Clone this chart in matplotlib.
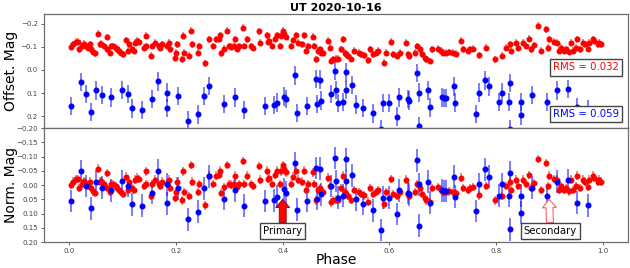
import numpy as np
import matplotlib
matplotlib.use('Agg')
import matplotlib.pyplot as plt

# red: offset mag
red_phase = [0.0025, 0.0075, 0.012, 0.016, 0.018, 0.024, 0.027, 0.032, 0.035, 0.039,
             0.041, 0.045, 0.048, 0.054, 0.057, 0.060, 0.065, 0.070, 0.071, 0.076,
             0.079, 0.083, 0.087, 0.090, 0.093, 0.097, 0.100, 0.106, 0.111, 0.112,
             0.118, 0.121, 0.123, 0.127, 0.131, 0.140, 0.144, 0.143, 0.153, 0.156,
             0.160, 0.168, 0.171, 0.174, 0.183, 0.187, 0.189, 0.199, 0.201, 0.202,
             0.211, 0.214, 0.216, 0.224, 0.228, 0.230, 0.241, 0.244, 0.255, 0.261,
             0.270, 0.275, 0.280, 0.283, 0.285, 0.290, 0.295, 0.300, 0.303, 0.308,
             0.311, 0.315, 0.318, 0.325, 0.328, 0.333, 0.341, 0.345, 0.355, 0.358,
             0.370, 0.372, 0.375, 0.379, 0.386, 0.389, 0.394, 0.397, 0.400, 0.403,
             0.407, 0.415, 0.420, 0.425, 0.428, 0.436, 0.440, 0.444, 0.448, 0.456,
             0.459, 0.462, 0.467, 0.469, 0.472, 0.476, 0.485, 0.488, 0.491, 0.494,
             0.500, 0.503, 0.510, 0.513, 0.516, 0.519, 0.522, 0.528, 0.534, 0.543,
             0.547, 0.553, 0.559, 0.564, 0.569, 0.575, 0.578, 0.589, 0.594, 0.603,
             0.606, 0.614, 0.619, 0.631, 0.634, 0.637, 0.647, 0.651, 0.657, 0.661,
             0.666, 0.669, 0.675, 0.680, 0.690, 0.697, 0.700, 0.706, 0.712, 0.719,
             0.725, 0.734, 0.738, 0.747, 0.750, 0.756, 0.767, 0.781, 0.797, 0.811,
             0.818, 0.825, 0.828, 0.837, 0.840, 0.850, 0.856, 0.862, 0.865, 0.870,
             0.879, 0.884, 0.893, 0.896, 0.898, 0.909, 0.913, 0.917, 0.921, 0.926,
             0.931, 0.936, 0.940, 0.943, 0.949, 0.952, 0.957, 0.962, 0.967, 0.971,
             0.974, 0.981, 0.984, 0.990, 0.993, 0.996]
red_mag = [-0.100, -0.112, -0.122, -0.122, -0.090, -0.104, -0.114, -0.104, -0.097, -0.112,
           -0.090, -0.078, -0.072, -0.158, -0.112, -0.114, -0.104, -0.090, -0.143, -0.075,
           -0.104, -0.104, -0.097, -0.090, -0.083, -0.075, -0.068, -0.130, -0.083, -0.112,
           -0.090, -0.083, -0.119, -0.126, -0.122, -0.097, -0.148, -0.104, -0.061, -0.104,
           -0.119, -0.104, -0.097, -0.112, -0.104, -0.119, -0.090, -0.054, -0.075, -0.112,
           -0.046, -0.148, -0.075, -0.061, -0.170, -0.112, -0.075, -0.104, -0.029, -0.133,
           -0.104, -0.133, -0.136, -0.151, -0.072, -0.093, -0.170, -0.104, -0.101, -0.104,
           -0.133, -0.093, -0.104, -0.184, -0.104, -0.133, -0.104, -0.097, -0.167, -0.119,
           -0.151, -0.122, -0.126, -0.104, -0.136, -0.151, -0.104, -0.148, -0.170, -0.158,
           -0.145, -0.104, -0.130, -0.151, -0.119, -0.112, -0.151, -0.083, -0.104, -0.145,
           -0.104, -0.046, -0.083, -0.090, -0.075, -0.075, -0.126, -0.097, -0.039, -0.046,
           -0.049, -0.049, -0.090, -0.133, -0.075, -0.068, -0.061, -0.049, -0.083, -0.075,
           -0.068, -0.064, -0.042, -0.090, -0.068, -0.075, -0.083, -0.032, -0.075, -0.122,
           -0.068, -0.061, -0.075, -0.119, -0.068, -0.061, -0.075, -0.104, -0.090, -0.068,
           -0.054, -0.046, -0.039, -0.090, -0.093, -0.083, -0.075, -0.075, -0.078, -0.075,
           -0.071, -0.126, -0.090, -0.083, -0.090, -0.093, -0.064, -0.097, -0.046, -0.061,
           -0.097, -0.112, -0.083, -0.119, -0.097, -0.119, -0.104, -0.136, -0.090, -0.107,
           -0.191, -0.083, -0.177, -0.097, -0.133, -0.122, -0.119, -0.083, -0.097, -0.083,
           -0.090, -0.078, -0.119, -0.083, -0.097, -0.133, -0.090, -0.119, -0.112, -0.093,
           -0.119, -0.133, -0.126, -0.112, -0.119, -0.112]

# blue: normalized mag
blue_phase = [0.004, 0.023, 0.031, 0.041, 0.051, 0.061, 0.079, 0.098, 0.110, 0.118,
              0.136, 0.155, 0.167, 0.184, 0.183, 0.204, 0.222, 0.241, 0.253, 0.261,
              0.290, 0.310, 0.328, 0.366, 0.384, 0.389, 0.402, 0.407, 0.423, 0.426,
              0.446, 0.464, 0.462, 0.469, 0.472, 0.491, 0.497, 0.500, 0.503, 0.513,
              0.518, 0.519, 0.530, 0.538, 0.550, 0.569, 0.584, 0.588, 0.599, 0.614,
              0.617, 0.634, 0.636, 0.652, 0.655, 0.656, 0.672, 0.676, 0.699, 0.703,
              0.706, 0.720, 0.723, 0.762, 0.768, 0.778, 0.787, 0.806, 0.811, 0.823,
              0.826, 0.826, 0.847, 0.847, 0.867, 0.895, 0.914, 0.934, 0.952, 0.971]
blue_norm = [0.056, -0.049, 0.003, 0.081, -0.012, 0.009, 0.019, -0.014, 0.003, 0.067,
             0.073, 0.027, -0.051, -0.002, 0.064, 0.012, 0.120, 0.093, 0.012, -0.031,
             0.048, 0.019, 0.073, 0.056, 0.053, 0.041, 0.015, 0.027, -0.077, 0.087,
             0.056, 0.048, -0.060, -0.058, 0.033, 0.003, -0.095, -0.014, 0.044, 0.038,
             -0.090, -0.014, -0.034, 0.050, 0.065, 0.088, 0.158, 0.044, 0.044, 0.102,
             0.019, 0.027, 0.033, -0.087, -0.002, 0.143, -0.012, 0.062, 0.019, 0.021,
             0.021, -0.029, 0.041, 0.091, -0.002, -0.055, -0.029, 0.038, -0.002, 0.038,
             -0.043, 0.155, 0.038, 0.097, 0.009, 0.038, -0.012, -0.017, 0.062, 0.071]

red_zero = -0.10
blue_zero = 0.10
red_err = 0.015
blue_err = 0.04
rms_red = 0.032
rms_blue = 0.059

red_phase = np.array(red_phase)
red_mag = np.array(red_mag)
blue_phase = np.array(blue_phase)
blue_norm = np.array(blue_norm)

fig = plt.figure(figsize=(6.3, 2.68), dpi=100)
ax1 = fig.add_axes([0.070, 0.522, 0.927, 0.426])
ax2 = fig.add_axes([0.070, 0.097, 0.927, 0.425], sharex=ax1)

ekw = dict(fmt='o', ms=3.3, elinewidth=1.2, capsize=0, zorder=2)

ax1.errorbar(red_phase, red_mag, yerr=red_err, color='red', ecolor=(1, 0, 0, 0.55), **ekw)
ax1.errorbar(blue_phase, blue_norm + blue_zero, yerr=blue_err, color='blue',
             ecolor=(0, 0, 1, 0.6), **ekw)

ax2.errorbar(red_phase, red_mag - red_zero, yerr=red_err, color='red', ecolor=(1, 0, 0, 0.55), **ekw)
ax2.errorbar(blue_phase, blue_norm, yerr=blue_err, color='blue', ecolor=(0, 0, 1, 0.6), **ekw)

ax1.set_xlim(-0.047, 1.047)
ax1.set_ylim(0.252, -0.243)
ax1.set_yticks([-0.2, -0.1, 0.0, 0.1, 0.2])
ax2.set_ylim(0.2, -0.2)
ax2.set_yticks(np.arange(-0.20, 0.201, 0.05))
ax2.set_xticks([0.0, 0.2, 0.4, 0.6, 0.8, 1.0])
plt.setp(ax1.get_xticklabels(), visible=False)

for ax in (ax1, ax2):
    ax.tick_params(labelsize=5, length=2.5, width=0.6, colors='#444444', pad=2)
    for sp in ax.spines.values():
        sp.set_color('#6e6e6e')
        sp.set_linewidth(0.9)

ax1.set_ylabel('Offset. Mag', fontsize=10)
ax2.set_ylabel('Norm. Mag', fontsize=10)
ax1.yaxis.set_label_coords(-0.045, 0.5)
ax2.yaxis.set_label_coords(-0.045, 0.5)
ax2.set_xlabel('Phase', fontsize=10)
ax2.xaxis.set_label_coords(0.5, -0.1)
ax1.set_title('UT 2020-10-16', fontsize=8, fontweight='bold', pad=2)

box = dict(boxstyle='square,pad=0.3', facecolor='white', edgecolor='#444444', linewidth=1)
ax1.text(0.985, 0.531, 'RMS = %.3f' % rms_red, transform=ax1.transAxes, ha='right',
         va='center', fontsize=7.3, color='red', bbox=box, zorder=5)
ax1.text(0.985, 0.127, 'RMS = %.3f' % rms_blue, transform=ax1.transAxes, ha='right',
         va='center', fontsize=7.3, color='blue', bbox=box, zorder=5)

ax2.annotate('Primary', xy=(0.400, 0.05), xytext=(0.400, 0.162), ha='center', va='center',
             fontsize=7.3, bbox=box, zorder=5,
             arrowprops=dict(facecolor='red', edgecolor='darkred', width=5, headwidth=10,
                             headlength=6, shrink=0.0, lw=0.6))
ax2.annotate('Secondary', xy=(0.899, 0.05), xytext=(0.901, 0.162), ha='center', va='center',
             fontsize=7.3, bbox=box, zorder=5,
             arrowprops=dict(facecolor='white', edgecolor='#ff6060', width=5, headwidth=10,
                             headlength=6, shrink=0.0, lw=0.8))

fig.savefig('out.png', dpi=100)
